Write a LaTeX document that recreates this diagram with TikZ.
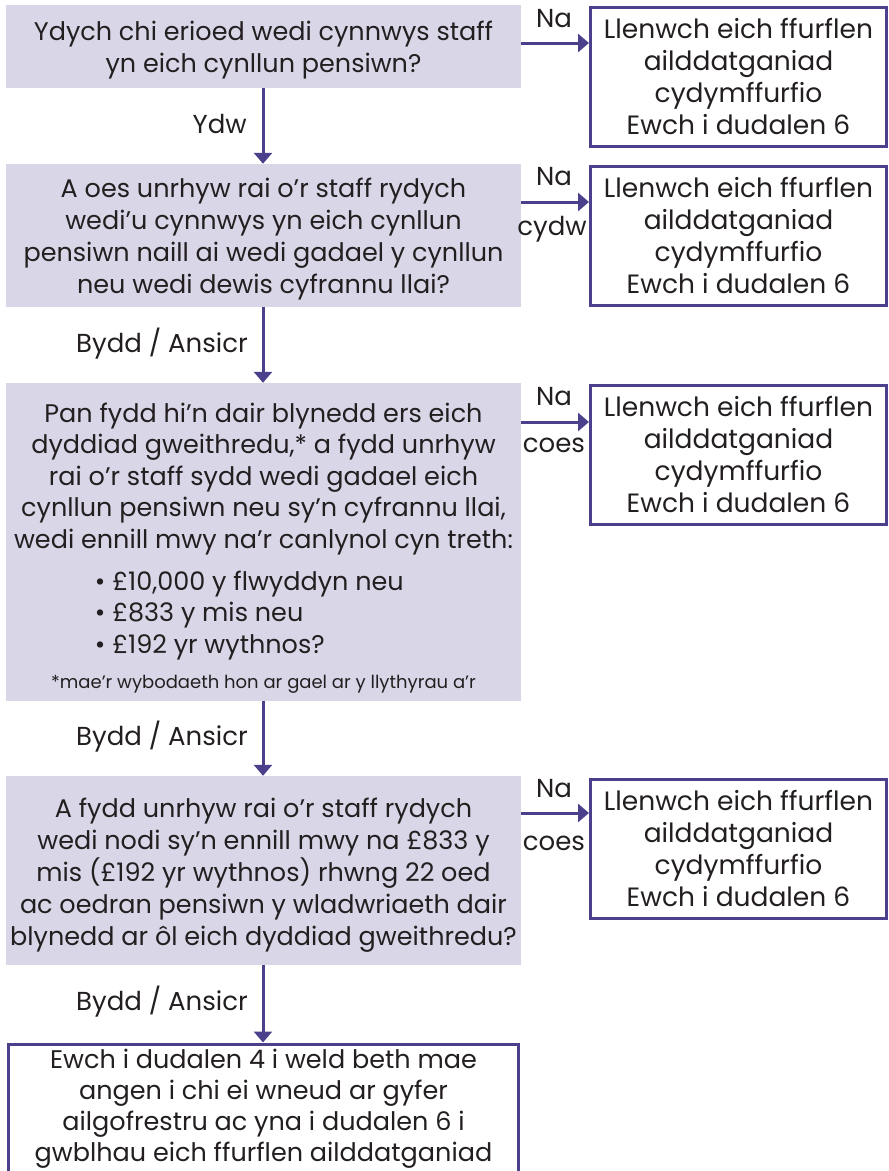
\documentclass[tikz,border=0pt]{standalone}
\usepackage{fontspec}
\setmainfont{Poppins}
\usetikzlibrary{arrows.meta}
\definecolor{qfill}{RGB}{217,214,232}
\definecolor{pur}{RGB}{75,64,140}
\definecolor{ink}{RGB}{35,31,32}
\begin{document}
\begin{tikzpicture}[x=1pt,y=-1pt,
  every node/.style={text=ink},
  qbox/.style={fill=qfill, draw=none, minimum width=515pt, inner sep=0pt},
  abox/.style={draw=pur, line width=3pt, fill=white, minimum width=296pt, minimum height=139pt, inner sep=0pt},
  endbox/.style={draw=pur, line width=3pt, fill=white, minimum width=510pt, minimum height=160pt, inner sep=0pt, anchor=north},
  qtxt/.style={inner sep=0pt, anchor=base, align=center, font=\fontsize{25.5}{32}\selectfont},
  atxt/.style={inner sep=0pt, anchor=base, align=center, font=\fontsize{26.5}{32}\selectfont},
  conn/.style={draw=pur, line width=3pt, -{Triangle[width=18pt,length=11pt]}},
  lbl/.style={inner sep=0pt, anchor=base, font=\fontsize{26}{30}\selectfont}
]
\useasboundingbox (0,0) rectangle (889,1171);
\clip (0,0) rectangle (889,1171);

% question boxes (text nodes are anchored at the baseline of their last line)
\node[qbox, minimum height=83pt] (q1) at (263.5,46.5) {};
\node[qtxt] (t1) at (263.5,72)
  {Ydych chi erioed wedi cynnwys staff\\yn eich cynllun pensiwn?};
\node[qbox, minimum height=143pt] (q2) at (263.5,235.5) {};
\node[qtxt] (t2) at (263.5,293.5)
  {A oes unrhyw rai o’r staff rydych\\wedi’u cynnwys yn eich cynllun\\pensiwn naill ai wedi gadael y cynllun\\neu wedi dewis cyfrannu llai?};
\node[qbox, minimum height=318pt] (q3) at (263.5,542) {};
\node[qtxt, font=\fontsize{25.5}{31.5}\selectfont] (t3) at (263.5,688)
  {Pan fydd hi’n dair blynedd ers eich\\dyddiad gweithredu,* a fydd unrhyw\\rai o’r staff sydd wedi gadael eich\\cynllun pensiwn neu sy’n cyfrannu llai,\\wedi ennill mwy na’r canlynol cyn treth:\\[10.5pt]
  \makebox[337pt][l]{• £10,000 y flwyddyn neu}\\
  \makebox[337pt][l]{• £833 y mis neu}\\
  \makebox[337pt][l]{• £192 yr wythnos?}\\[3.5pt]
  {\fontsize{18}{22}\selectfont *mae’r wybodaeth hon ar gael ar y llythyrau a’r}};
\node[qbox, minimum height=189pt] (q4) at (263.5,870.5) {};
\node[qtxt, font=\fontsize{25.5}{31.8}\selectfont] (t4) at (263.5,945)
  {A fydd unrhyw rai o’r staff rydych\\wedi nodi sy’n ennill mwy na £833 y\\mis (£192 yr wythnos) rhwng 22 oed\\ac oedran pensiwn y wladwriaeth dair\\blynedd ar ôl eich dyddiad gweithredu?};

% answer boxes
\node[abox] (a1) at (738.5,77) {};
\node[atxt] (s1) at (738.5,134.5) {Llenwch eich ffurflen\\ailddatganiad\\cydymffurfio\\Ewch i dudalen 6};
\node[abox] (a2) at (738.5,236) {};
\node[atxt] (s2) at (738.5,293.5) {Llenwch eich ffurflen\\ailddatganiad\\cydymffurfio\\Ewch i dudalen 6};
\node[abox] (a3) at (738.5,455) {};
\node[atxt] (s3) at (738.5,512.5) {Llenwch eich ffurflen\\ailddatganiad\\cydymffurfio\\Ewch i dudalen 6};
\node[abox] (a4) at (738.5,849) {};
\node[atxt] (s4) at (738.5,906.5) {Llenwch eich ffurflen\\ailddatganiad\\cydymffurfio\\Ewch i dudalen 6};

% final box
\node[endbox] (e5) at (263.5,1042.5) {};
\node[qtxt, font=\fontsize{25.5}{31}\selectfont] (t5) at (263.5,1161)
  {Ewch i dudalen 4 i weld beth mae\\angen i chi ei wneud ar gyfer\\ailgofrestru ac yna i dudalen 6 i\\gwblhau eich ffurflen ailddatganiad};

% horizontal connectors
\draw[conn] (q1.east |- 0,43) -- (a1.west |- 0,43);
\draw[conn] (q2.east |- 0,202) -- (a2.west |- 0,202);
\draw[conn] (q3.east |- 0,422) -- (a3.west |- 0,422);
\draw[conn] (q4.east |- 0,813) -- (a4.west |- 0,813);

% vertical connectors
\draw[conn] (q1.south -| 263,0) -- (q2.north -| 263,0);
\draw[conn] (q2.south -| 263,0) -- (q3.north -| 263,0);
\draw[conn] (q3.south -| 263,0) -- (q4.north -| 263,0);
\draw[conn] (q4.south -| 263,0) -- (e5.north -| 263,0);

% labels
\node[lbl] (n1) at (554,27) {Na};
\node[lbl] (n2) at (554,185) {Na};
\node[lbl] (c2) at (552,235) {cydw};
\node[lbl] (n3) at (554,405) {Na};
\node[lbl] (c3) at (554,452) {coes};
\node[lbl] (n4) at (554,797) {Na};
\node[lbl] (c4) at (554,850) {coes};
\node[lbl, anchor=base east] (y1) at (247,133) {Ydw};
\node[lbl, anchor=base east] (b2) at (248,352) {Bydd / Ansicr};
\node[lbl, anchor=base east] (b3) at (248,745.5) {Bydd / Ansicr};
\node[lbl, anchor=base east] (b4) at (248,1010.5) {Bydd / Ansicr};
\end{tikzpicture}
\end{document}
